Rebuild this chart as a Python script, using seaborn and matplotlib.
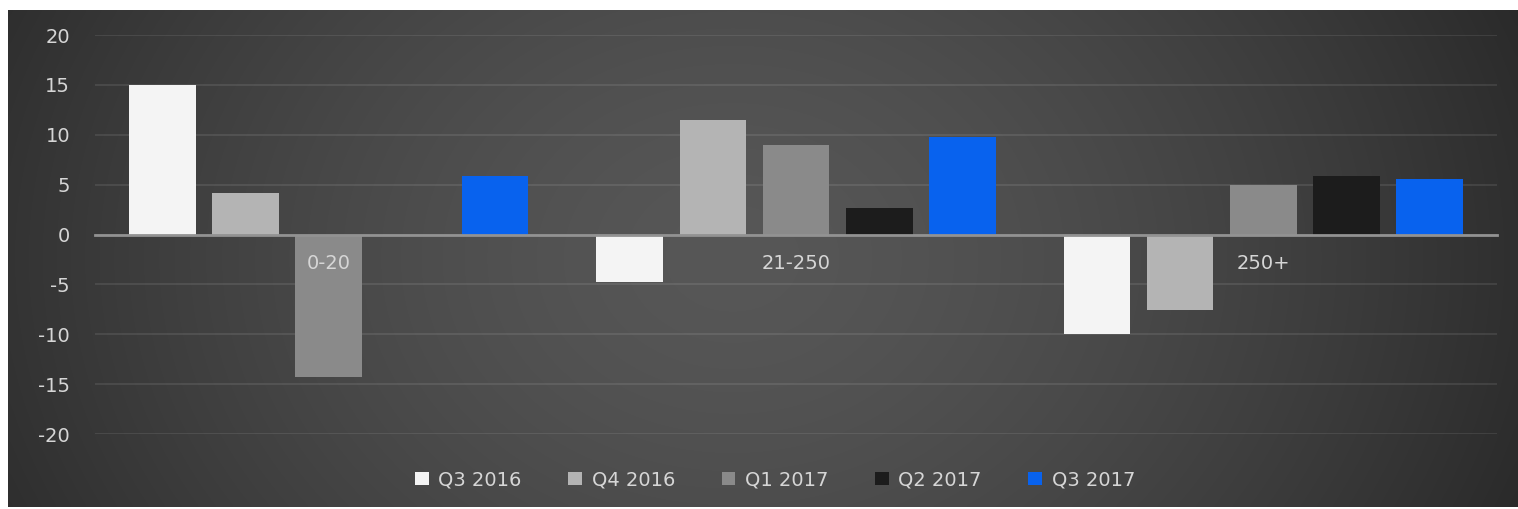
import numpy as np
import pandas as pd
import matplotlib
matplotlib.use("Agg")
import matplotlib.pyplot as plt
import seaborn as sns

# ---- data ----
categories = ["0-20", "21-250", "250+"]
series = ["Q3 2016", "Q4 2016", "Q1 2017", "Q2 2017", "Q3 2017"]
q3_2016 = [15.0, -4.8, -10.0]
q4_2016 = [4.2, 11.5, -7.6]
q1_2017 = [-14.3, 9.0, 5.0]
q2_2017 = [0.0, 2.7, 5.9]
q3_2017 = [5.9, 9.8, 5.6]
yticks = [-20, -15, -10, -5, 0, 5, 10, 15, 20]

colors = {"Q3 2016": "#f4f4f4", "Q4 2016": "#b4b4b4", "Q1 2017": "#8a8a8a",
          "Q2 2017": "#1c1c1c", "Q3 2017": "#0862ee"}

values = [q3_2016, q4_2016, q1_2017, q2_2017, q3_2017]
df = pd.DataFrame([(c, s, v[i]) for s, v in zip(series, values)
                   for i, c in enumerate(categories)],
                  columns=["cat", "series", "value"])

sns.set_theme(style="dark")
plt.rcParams["font.family"] = ["DejaVu Sans"]

fig = plt.figure(figsize=(15.18, 5.09), dpi=100)
fig.patch.set_facecolor("white")

# background gradient panel
bg = fig.add_axes([0.0053, 0.004, 0.9947, 0.976], zorder=-1)
xx, yy = np.meshgrid(np.linspace(0, 1, 400), np.linspace(0, 1, 200))
r = np.sqrt(((xx - 0.48) / 0.58) ** 2 + ((yy - 0.5) / 1.4) ** 2)
r = np.clip(r, 0, 1)
level = (0x57 - (0x57 - 0x28) * r ** 1.5) / 255.0
img = np.dstack([level, level, level])
bg.imshow(img, aspect="auto", extent=[0, 1, 0, 1], interpolation="bicubic")
bg.set_axis_off()

ax = fig.add_axes([0.0626, 0.1473, 0.9236, 0.7839])
ax.set_facecolor("none")

sns.barplot(data=df, x="cat", y="value", hue="series", hue_order=series,
            order=categories, palette=colors, width=0.89, gap=0.2,
            saturation=1, edgecolor="none", ax=ax, legend=True, errorbar=None)

ax.set_ylim(-20, 20)
ax.set_yticks(yticks)
ax.set_yticklabels([str(t) for t in yticks])
ax.set_xlim(-0.5, 2.5)
ax.set_xlabel("")
ax.set_ylabel("")

ax.grid(axis="y", color="#ffffff", alpha=0.09, linewidth=1.5)
ax.grid(axis="x", visible=False)
ax.set_axisbelow(True)
ax.xaxis.set_zorder(3)

for s in ["top", "right", "left"]:
    ax.spines[s].set_visible(False)
ax.spines["bottom"].set_position(("data", 0))
ax.spines["bottom"].set_color("#929292")
ax.spines["bottom"].set_linewidth(2)
ax.spines["bottom"].set_zorder(3)

ax.tick_params(axis="x", length=0, pad=14, labelsize=14, labelcolor="#d6d6d6")
ax.tick_params(axis="y", length=0, pad=18, labelsize=14, labelcolor="#d6d6d6")

handles, labels = ax.get_legend_handles_labels()
ax.legend(handles, labels, loc="center", bbox_to_anchor=(0.485, -0.115),
          ncol=5, frameon=False, fontsize=14, labelcolor="#d6d6d6",
          handlelength=0.7, handleheight=0.7, handletextpad=0.5,
          columnspacing=2.4)

fig.savefig("out.png", dpi=100, facecolor=fig.get_facecolor())
